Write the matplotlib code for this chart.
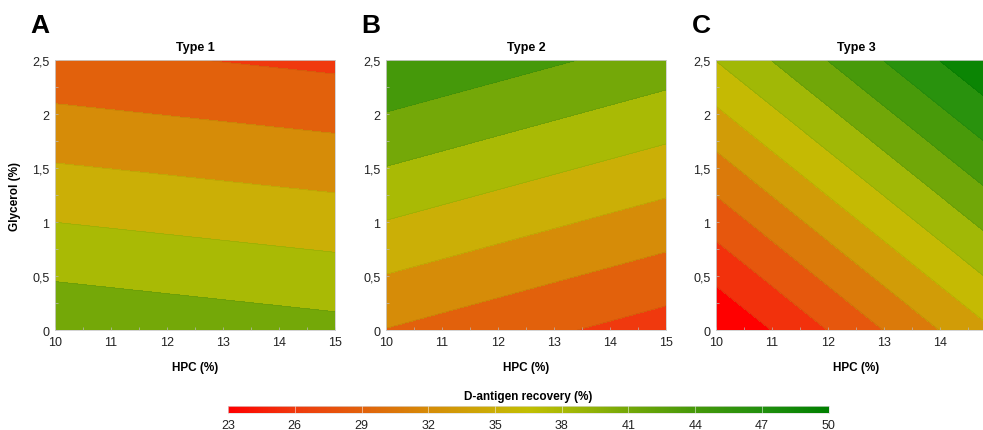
import numpy as np
import matplotlib
matplotlib.use("Agg")
import matplotlib.pyplot as plt
from matplotlib.colors import LinearSegmentedColormap, Normalize

plt.rcParams['font.family'] = ['Liberation Sans', 'DejaVu Sans']

# axis ranges (corners of each panel)
hpc = [10, 15]
glycerol = [0, 2.5]

# D-antigen recovery at the panel corners, rows: glycerol 0 / 2.5, cols: HPC 10 / 15
type1 = [[41.95, 40.42],
         [28.30, 26.80]]
type2 = [[30.40, 26.15],
         [45.40, 41.15]]
type3 = [[21.75, 34.75],
         [37.35, 50.35]]

# contour level settings (start, step)
level_start = [24.5, 24.5, 21.7]
level_step = [3.0, 3.0, 2.6]

titles = ['Type 1', 'Type 2', 'Type 3']
letters = ['A', 'B', 'C']
cbar_ticks = [23, 26, 29, 32, 35, 38, 41, 44, 47, 50]

# colour ramp of the colour bar
ramp_vals = [23, 26, 29, 32, 35, 36.5, 38.5, 41, 44, 47, 50]
ramp_cols = ['#ff0000', '#f03a0e', '#e2620c', '#d68c08', '#cbaf06', '#c2bf02',
             '#a2b806', '#74a808', '#46990a', '#22900e', '#008000']
vmin, vmax = 23, 50
cmap = LinearSegmentedColormap.from_list(
    'recov', [((v - vmin) / (vmax - vmin), c) for v, c in zip(ramp_vals, ramp_cols)])
norm = Normalize(vmin, vmax)

fig = plt.figure(figsize=(9.83, 4.31), dpi=100)

lefts = [0.056, 0.3927, 0.7284]
letter_x = [0.031, 0.368, 0.704]
xticks = [10, 11, 12, 13, 14, 15]
yticks = [0, 0.5, 1, 1.5, 2, 2.5]
ylabels = ['0', '0,5', '1', '1,5', '2', '2,5']

for i, Z in enumerate([type1, type2, type3]):
    ax = fig.add_axes([lefts[i], 0.232, 0.285, 0.626])
    Z = np.array(Z)
    lv = np.arange(level_start[i] - 2 * level_step[i], 56, level_step[i])
    ax.contourf(hpc, glycerol, Z, levels=lv, cmap=cmap, norm=norm)
    ax.contour(hpc, glycerol, Z, levels=lv, colors='k', linewidths=0.3, alpha=0.12)
    ax.set_xlim(10, 15)
    ax.set_ylim(0, 2.5)
    ax.set_xticks(xticks)
    # the last panel runs past the right edge of the figure, so 15 is not shown
    ax.set_xticklabels([str(t) for t in xticks[:-1]] + (['15'] if i < 2 else ['']))
    ax.set_yticks(yticks)
    ax.set_yticklabels(ylabels)
    ax.set_xticks(np.arange(10.5, 15, 1), minor=True)
    ax.set_yticks([0.25, 0.75, 1.25, 1.75, 2.25], minor=True)
    ax.tick_params(which='both', direction='in', length=2.5, width=0.5,
                   color='#bbbbbb', labelsize=9, labelcolor='#222222', pad=4)
    for s in ax.spines.values():
        s.set_color('#cccccc')
        s.set_linewidth(0.6)
    ax.set_title(titles[i], fontsize=9, fontweight='bold', pad=7)
    ax.set_xlabel('HPC (%)', fontsize=8.5, fontweight='bold', labelpad=10)
    if i == 0:
        ax.set_ylabel('Glycerol (%)', fontsize=8.5, fontweight='bold', labelpad=8)
    fig.text(letter_x[i], 0.923, letters[i], fontsize=19, fontweight='bold',
             va='baseline')

# colour bar
cax = fig.add_axes([0.232, 0.0394, 0.611, 0.017])
grad = np.linspace(vmin, vmax, 512).reshape(1, -1)
cax.imshow(grad, aspect='auto', cmap=cmap, norm=norm, extent=[vmin, vmax, 0, 1])
for t in cbar_ticks[1:-1]:
    cax.axvline(t, color='white', lw=0.6, alpha=0.6)
cax.set_xlim(vmin, vmax)
cax.set_yticks([])
cax.set_xticks(cbar_ticks)
cax.tick_params(length=0, labelsize=9, labelcolor='#222222', pad=4)
for s in cax.spines.values():
    s.set_color('#dddddd')
    s.set_linewidth(0.5)
cax.set_title('D-antigen recovery (%)', fontsize=8.5, fontweight='bold', pad=5)

fig.savefig('out.png', dpi=100)
